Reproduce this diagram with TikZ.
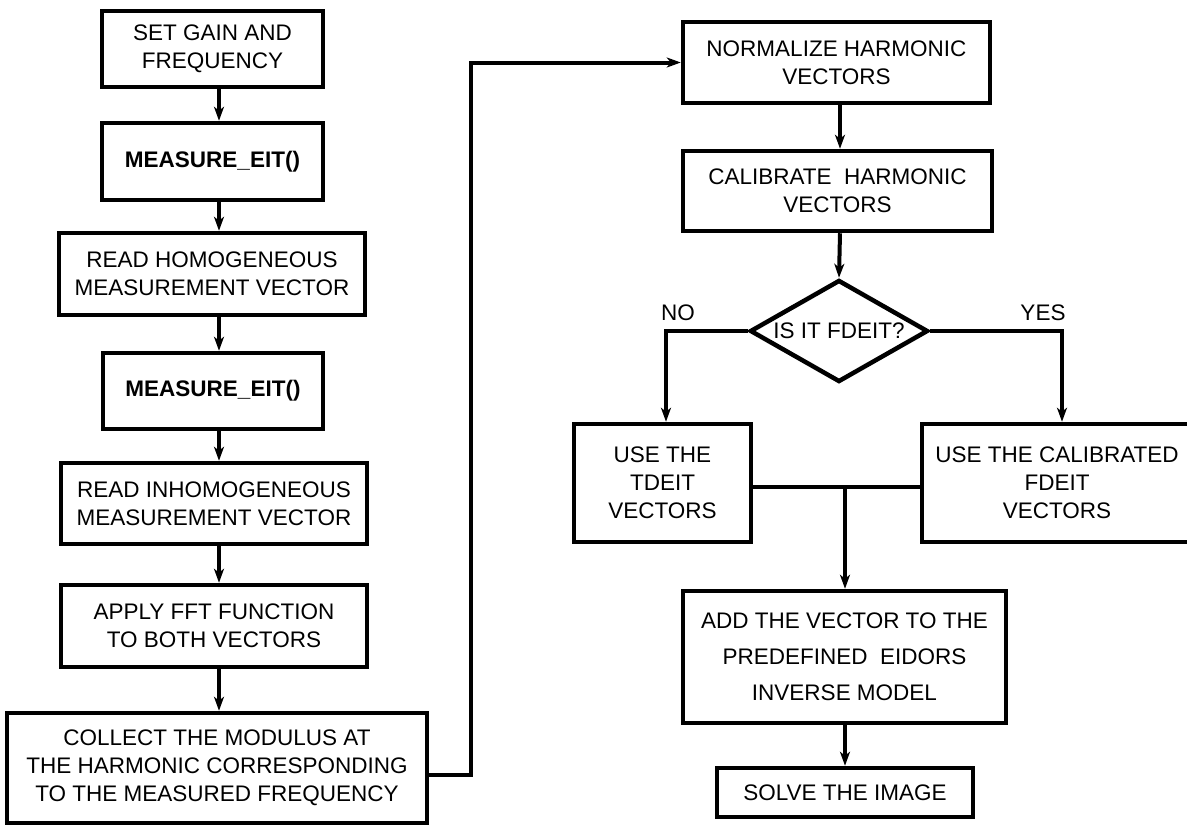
\documentclass[tikz,border=0pt]{standalone}
\usepackage{fontspec}
\setmainfont{Liberation Sans}
\usetikzlibrary{arrows.meta,shapes.geometric}
\tikzset{
  every node/.style={font=\fontsize{22.5}{28}\selectfont},
  proc/.style={draw, line width=4.5pt, align=center, inner sep=0pt},
  decision/.style={draw, line width=4.5pt, diamond, aspect=1.75, inner sep=0pt,
    minimum width=178pt, minimum height=102pt},
  conn/.style={line width=4pt},
  arr/.style={conn, -{Stealth[length=14pt, width=10pt, inset=4pt]}},
  lbl/.style={inner sep=0pt}
}
\begin{document}
\begin{tikzpicture}[x=1pt, y=-1pt]
  \fill[white] (0,0) rectangle (1187,825);
  \useasboundingbox (0,0) rectangle (1187,825);

  % left column
  \node[proc, minimum width=221pt, minimum height=76pt] (gain) at (212.5,49) {SET GAIN AND\\FREQUENCY};
  \node[proc, minimum width=221pt, minimum height=77pt, font=\fontsize{22.5}{28}\selectfont\bfseries] (meas1) at (212.5,161.5) {MEASURE\_EIT()};
  \node[proc, minimum width=306pt, minimum height=82pt] (homo) at (212,274) {READ HOMOGENEOUS\\MEASUREMENT VECTOR};
  \node[proc, minimum width=220pt, minimum height=76pt, font=\fontsize{22.5}{28}\selectfont\bfseries] (meas2) at (213,391) {MEASURE\_EIT()};
  \node[proc, minimum width=306pt, minimum height=81pt] (inhomo) at (214,503.5) {READ INHOMOGENEOUS\\MEASUREMENT VECTOR};
  \node[proc, minimum width=306pt, minimum height=82pt] (fft) at (214,626) {APPLY FFT FUNCTION\\TO BOTH VECTORS};
  \node[proc, minimum width=420pt, minimum height=110pt] (collect) at (217,768) {COLLECT THE MODULUS AT\\THE HARMONIC CORRESPONDING\\TO THE MEASURED FREQUENCY};

  % right column
  \node[proc, minimum width=307pt, minimum height=81pt] (norm) at (836.5,62.5) {NORMALIZE HARMONIC\\VECTORS};
  \node[proc, minimum width=309pt, minimum height=80pt] (calib) at (837.5,191) {CALIBRATE~ HARMONIC\\VECTORS};
  \node[decision] (dec) at (839,331) {IS IT FDEIT?};
  \node[proc, minimum width=177pt, minimum height=118pt] (tdeit) at (662.5,483) {USE THE\\TDEIT\\VECTORS};
  \node[proc, minimum width=270pt, minimum height=118pt] (fdeit) at (1057,483) {USE THE CALIBRATED\\FDEIT\\VECTORS};
  \node[proc, minimum width=323pt, minimum height=132pt, font=\fontsize{22.5}{36}\selectfont] (add) at (844.5,657) {ADD THE VECTOR TO THE\\PREDEFINED~ EIDORS\\INVERSE MODEL};
  \node[proc, minimum width=256pt, minimum height=49pt] (solve) at (845,792.5) {SOLVE THE IMAGE};

  \node[lbl] (no) at (678,313) {NO};
  \node[lbl] (yes) at (1043,313) {YES};

  % guide coordinates for the vertical connectors
  \coordinate (spine) at (219,0);
  \coordinate (rspine) at (840,0);
  \coordinate (bend) at (471,0);
  \coordinate (join) at (845,487);

  % left column flow
  \draw[arr] (gain.south -| spine) -- (meas1.north -| spine);
  \draw[arr] (meas1.south -| spine) -- (homo.north -| spine);
  \draw[arr] (homo.south -| spine) -- (meas2.north -| spine);
  \draw[arr] (meas2.south -| spine) -- (inhomo.north -| spine);
  \draw[arr] (inhomo.south -| spine) -- (fft.north -| spine);
  \draw[arr] (fft.south -| spine) -- (collect.north -| spine);

  % hand-over to the right column
  \draw[arr] ([yshift=-7pt]collect.east) -| (bend |- norm.west) -- (norm.west);

  % right column flow
  \draw[arr] (norm.south -| rspine) -- (calib.north -| rspine);
  \draw[arr] (calib.south -| rspine) -- (dec.north);
  \draw[arr] (dec.west) -| ([xshift=3.5pt]tdeit.north);
  \draw[arr] (dec.east) -| ([xshift=5pt]fdeit.north);
  \draw[conn] ([yshift=-4pt]tdeit.east) -- ([yshift=-4pt]fdeit.west);
  \draw[arr] (join) -- (add.north -| join);
  \draw[arr] (add.south -| join) -- (solve.north -| join);
\end{tikzpicture}
\end{document}
